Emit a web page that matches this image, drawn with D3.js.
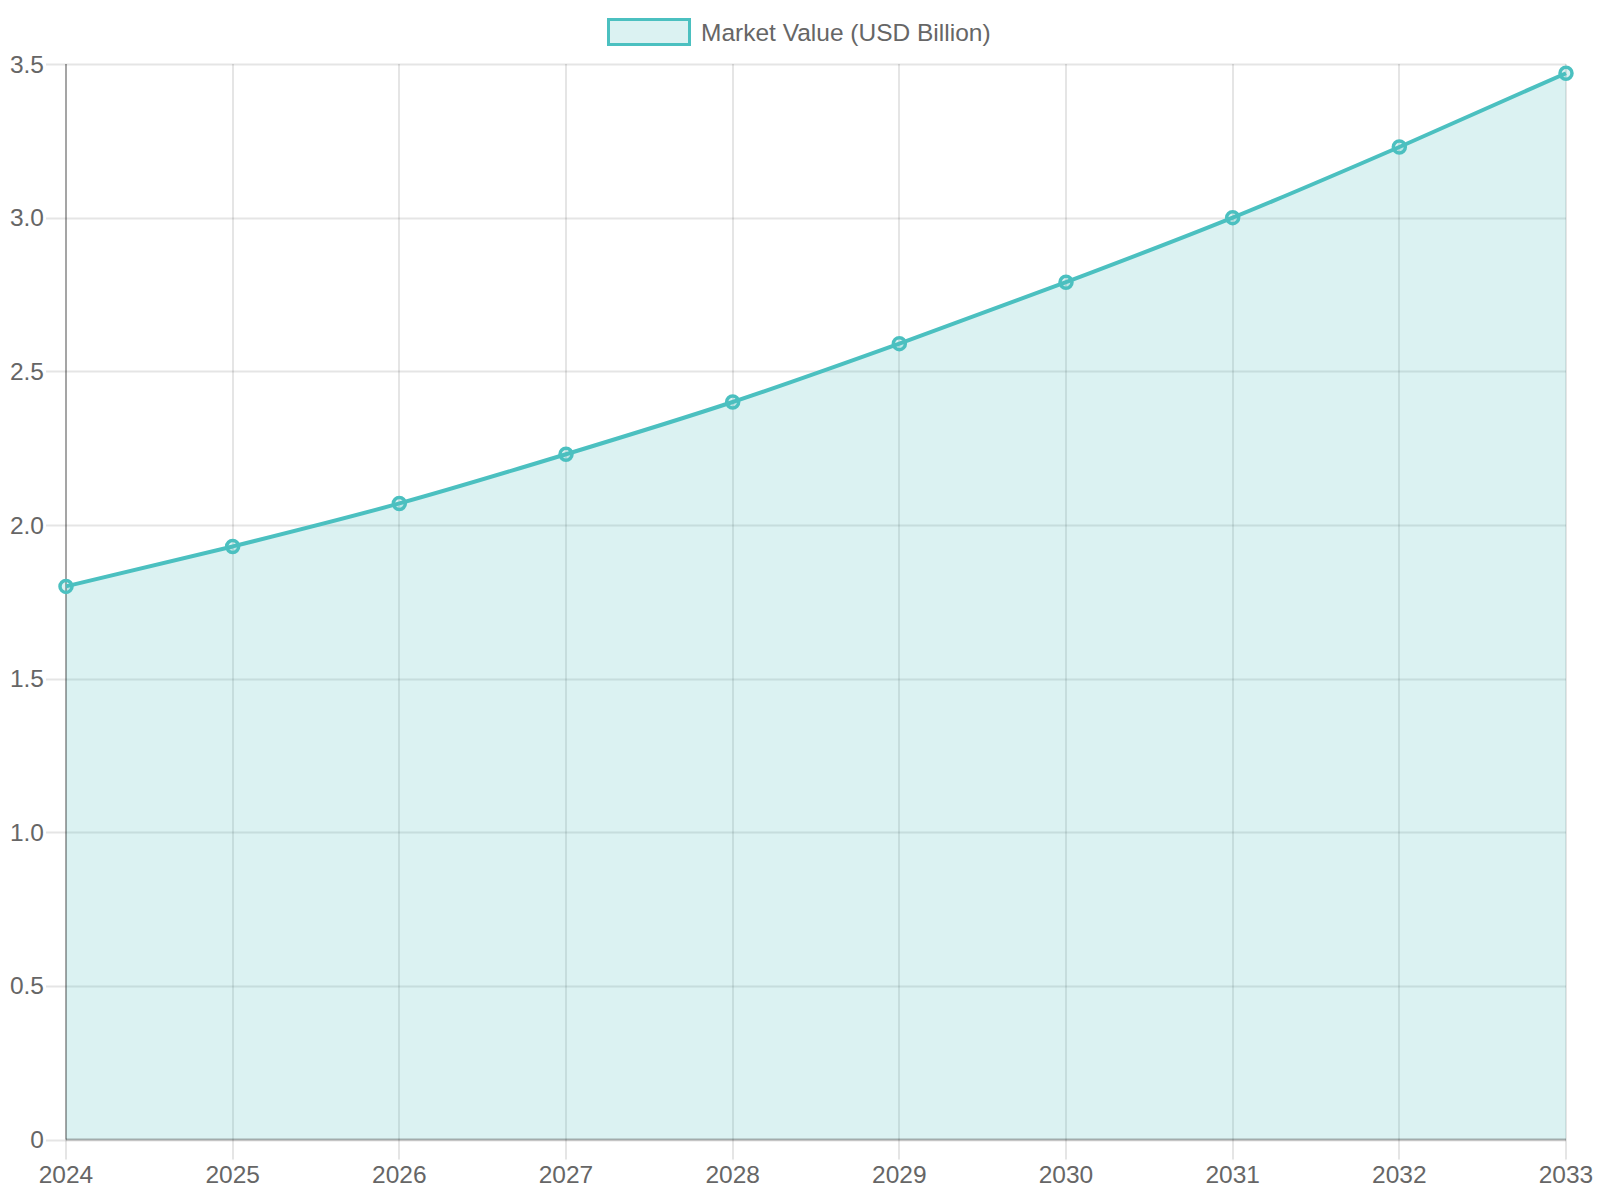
<!DOCTYPE html>
<html>
<head>
<meta charset="utf-8">
<script src="https://cdn.jsdelivr.net/npm/d3@7"></script>
<style>
  html, body { margin: 0; padding: 0; background: #fff; }
  svg { display: block; font-family: "Liberation Sans", Arial, Helvetica, sans-serif; }
</style>
</head>
<body>
<svg id="chart" width="1600" height="1200"></svg>
<script>
const years = ["2024","2025","2026","2027","2028","2029","2030","2031","2032","2033"];
const marketValues = [1.8, 1.93, 2.07, 2.23, 2.4, 2.59, 2.79, 3.0, 3.23, 3.47];
const yTicks = [0, 0.5, 1.0, 1.5, 2.0, 2.5, 3.0, 3.5];
const seriesName = "Market Value (USD Billion)";

const lineColor = "rgb(75,192,192)";
const fillColor = "rgba(75,192,192,0.2)";
const textColor = "#666";

const svg = d3.select("#chart");
const margin = { left: 66, right: 34, top: 64, bottom: 60.5 };
const W = 1600, H = 1200;

const x = d3.scalePoint().domain(years).range([margin.left, W - margin.right]);
const y = d3.scaleLinear().domain([0, 3.5]).range([H - margin.bottom, margin.top]);

// grid
const grid = svg.append("g");
grid.selectAll("line.h").data(yTicks).join("line")
  .attr("x1", margin.left - 20).attr("x2", W - margin.right)
  .attr("y1", d => Math.round(y(d)) + 0.5).attr("y2", d => Math.round(y(d)) + 0.5)
  .attr("stroke", "rgba(0,0,0,0.1)").attr("stroke-width", 2);
grid.selectAll("line.v").data(years).join("line")
  .attr("x1", d => Math.round(x(d))).attr("x2", d => Math.round(x(d)))
  .attr("y1", margin.top).attr("y2", H - margin.bottom + 20)
  .attr("stroke", "rgba(0,0,0,0.1)").attr("stroke-width", 2);

// area
const data = years.map((yr, i) => ({ yr, v: marketValues[i] }));
const area = d3.area().x(d => x(d.yr)).y0(y(0)).y1(d => y(d.v)).curve(d3.curveMonotoneX);
const line = d3.line().x(d => x(d.yr)).y(d => y(d.v)).curve(d3.curveMonotoneX);

svg.append("path").datum(data).attr("d", area).attr("fill", fillColor);

// axes lines
svg.append("line").attr("x1", margin.left).attr("x2", margin.left)
  .attr("y1", margin.top).attr("y2", H - margin.bottom)
  .attr("stroke", "rgba(0,0,0,0.28)").attr("stroke-width", 2);
svg.append("line").attr("x1", margin.left).attr("x2", W - margin.right)
  .attr("y1", H - margin.bottom).attr("y2", H - margin.bottom)
  .attr("stroke", "rgba(0,0,0,0.28)").attr("stroke-width", 2);

svg.append("path").datum(data).attr("d", line)
  .attr("fill", "none").attr("stroke", lineColor).attr("stroke-width", 4);

svg.append("g").selectAll("circle").data(data).join("circle")
  .attr("cx", d => x(d.yr)).attr("cy", d => y(d.v)).attr("r", 6)
  .attr("fill", fillColor).attr("stroke", lineColor).attr("stroke-width", 3.5);

// tick labels
svg.append("g").selectAll("text").data(yTicks).join("text")
  .attr("x", margin.left - 22).attr("y", d => y(d))
  .attr("dy", "0.35em").attr("text-anchor", "end")
  .attr("font-size", 24.5).attr("fill", textColor)
  .text(d => d === 0 ? "0" : d.toFixed(1));

svg.append("g").selectAll("text").data(years).join("text")
  .attr("x", d => x(d)).attr("y", H - margin.bottom + 43.5)
  .attr("text-anchor", "middle")
  .attr("font-size", 24.5).attr("fill", textColor)
  .text(d => d);

// legend
const lg = svg.append("g");
lg.append("rect").attr("x", 608.5).attr("y", 19.5).attr("width", 81).attr("height", 25)
  .attr("fill", fillColor).attr("stroke", lineColor).attr("stroke-width", 3);
lg.append("text").attr("x", 701).attr("y", 32).attr("dy", "0.35em")
  .attr("font-size", 24.5).attr("fill", textColor).text(seriesName);
</script>
</body>
</html>
